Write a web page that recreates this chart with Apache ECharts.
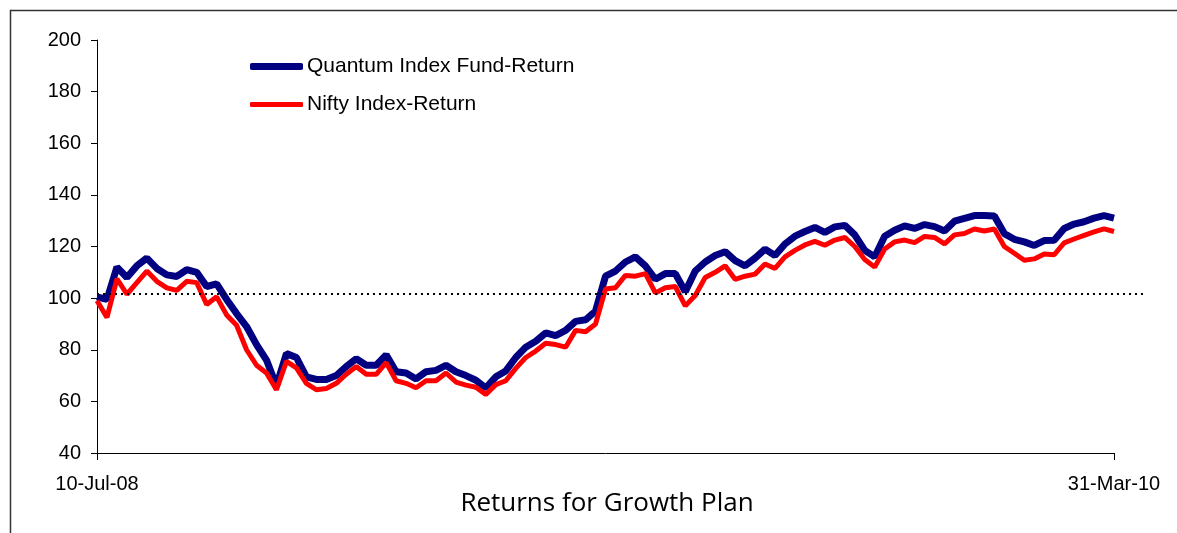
<!DOCTYPE html>
<html>
<head>
<meta charset="utf-8">
<script src="https://cdn.jsdelivr.net/npm/echarts@6/dist/echarts.min.js"></script>
<style>
  html, body { margin: 0; padding: 0; background: #fff; }
  #chart { width: 1177px; height: 533px; }
</style>
</head>
<body>
<div id="chart"></div>
<script>
// end labels of the date axis
const dateLabels = ['10-Jul-08', '31-Mar-10']

// values, roughly weekly
const quantum = [
  100.5, 99.5, 112, 108, 112.5, 115.5, 111.5, 109, 108.4, 111,
  110, 104.5, 105.5, 99.5, 94, 89, 82, 76, 66, 78.5,
  77, 69.5, 68.5, 68.5, 70, 73.5, 76.5, 74, 74, 78,
  71.5, 71, 68.7, 71.5, 72, 74, 71.5, 70, 68.2, 65.2,
  69.5, 71.8, 77, 81, 83.3, 86.5, 85.5, 87.5, 91, 91.6,
  95, 108.5, 110.5, 114, 116, 112.5, 107.3, 109.5, 109.5, 102.5,
  110.5, 114, 116.5, 118, 114.5, 112.5, 115.5, 119, 116.5, 121,
  124, 125.8, 127.4, 125.5, 127.6, 128.2, 124.5, 118.5, 116, 124,
  126.3, 128, 127, 128.5, 127.7, 126, 129.8, 130.9, 132, 132,
  131.8, 125, 122.8, 121.8, 120.4, 122.3, 122.4, 127, 128.7, 129.6,
  131, 132, 131
]
const nifty = [
  99, 92.5, 107.5, 101.5, 106, 110.5, 106.5, 104, 103, 106.5,
  106, 97.5, 100.5, 93.5, 89.5, 80, 74, 71, 64.5, 75.5,
  73, 67, 64.5, 65, 67, 70.5, 73.5, 70.5, 70.5, 75,
  68, 67, 65.3, 68, 68, 71, 67.5, 66.3, 65.5, 62.7,
  66.5, 68, 72.8, 77, 79.5, 82.5, 82, 81, 87.5, 87,
  90, 103.5, 104, 108.8, 108.5, 109.5, 102, 104, 104.5, 97,
  101, 108, 110, 112.5, 107.3, 108.5, 109.3, 113.2, 111.5, 116,
  118.5, 120.6, 122, 120.5, 122.5, 123.5, 120, 115, 112, 119,
  121.8, 122.5, 121.5, 123.9, 123.5, 121, 124.5, 125, 126.8, 126,
  126.8, 120, 117.4, 114.7, 115.2, 117.1, 116.8, 121.4, 122.9, 124.3,
  125.7, 126.8, 125.8
]

// dotted reference level
const refLevel = 101.6

const last = quantum.length - 1
const categories = quantum.map((v, i) => {
  if (i === 0) return dateLabels[0]
  if (i === last) return dateLabels[1]
  return String(i)
})
const isEnd = (i) => i === 0 || i === last

const chart = echarts.init(document.getElementById('chart'))

chart.setOption({
  animation: false,
  textStyle: { fontFamily: 'Liberation Sans, Arial, sans-serif' },
  title: {
    text: 'Returns for Growth Plan',
    left: 607,
    textAlign: 'center',
    top: 491,
    padding: 0,
    textStyle: {
      fontFamily: 'Open Sans',
      fontSize: 26,
      fontWeight: 'normal',
      color: '#000'
    }
  },
  legend: [{
    data: ['Quantum Index Fund-Return'],
    left: 250,
    top: 56,
    padding: 0,
    icon: 'roundRect',
    itemWidth: 53,
    itemHeight: 7,
    textStyle: { fontSize: 21, color: '#000', padding: [0, 0, 0, -1] }
  }, {
    data: ['Nifty Index-Return'],
    left: 250,
    top: 94,
    padding: 0,
    icon: 'roundRect',
    itemWidth: 53,
    itemHeight: 5,
    textStyle: { fontSize: 21, color: '#000', padding: [0, 0, 0, -1] }
  }],
  grid: [
    { left: 97, right: 63, top: 40, bottom: 80 },
    { left: 97, right: 34, top: 40, bottom: 80 }
  ],
  xAxis: [{
    type: 'category',
    gridIndex: 0,
    data: categories,
    boundaryGap: false,
    axisLine: { lineStyle: { color: '#000', width: 1 } },
    axisTick: { length: 7, interval: (i) => isEnd(i), lineStyle: { color: '#000' } },
    axisLabel: {
      interval: (i) => isEnd(i),
      fontSize: 20,
      color: '#000',
      margin: 21
    },
    splitLine: { show: false }
  }, {
    type: 'value',
    gridIndex: 1,
    min: 0,
    max: 1,
    show: false
  }],
  yAxis: [{
    type: 'value',
    gridIndex: 0,
    min: 40,
    max: 200,
    interval: 20,
    axisLine: { show: true, lineStyle: { color: '#000', width: 1 } },
    axisTick: { show: true, length: 6, lineStyle: { color: '#000' } },
    axisLabel: { fontSize: 20, color: '#000', margin: 16 },
    splitLine: { show: false }
  }, {
    type: 'value',
    gridIndex: 1,
    min: 40,
    max: 200,
    show: false
  }],
  series: [{
    name: 'Nifty Index-Return',
    type: 'line',
    data: nifty,
    symbol: 'none',
    color: '#ff0000',
    lineStyle: { color: '#ff0000', width: 5 },
    z: 2
  }, {
    name: 'Quantum Index Fund-Return',
    type: 'line',
    data: quantum,
    symbol: 'none',
    color: '#000080',
    lineStyle: { color: '#000080', width: 7 },
    z: 1
  }, {
    name: 'ref',
    type: 'line',
    xAxisIndex: 1,
    yAxisIndex: 1,
    data: [],
    markLine: {
      silent: true,
      symbol: 'none',
      label: { show: false },
      lineStyle: { color: '#000', width: 2, type: [2, 4] },
      data: [{ yAxis: refLevel }]
    },
    z: 0
  }],
  graphic: [{
    type: 'rect',
    shape: { x: 10.5, y: 10.5, width: 1300, height: 600 },
    style: { fill: 'none', stroke: '#333', lineWidth: 1.5 },
    silent: true
  }]
})
</script>
</body>
</html>
